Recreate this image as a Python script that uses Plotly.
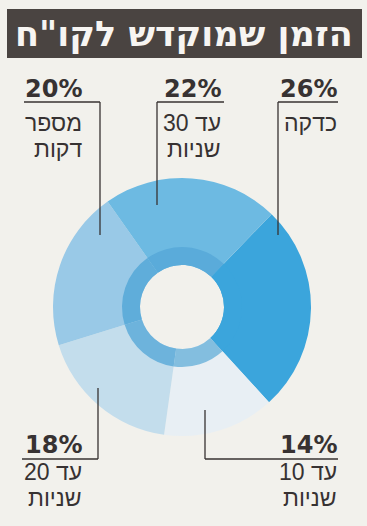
import plotly.graph_objects as go

W, H = 367, 526

# ---- data ----
title_text = "הזמן שמוקדש לקו\"ח"
categories = ["כדקה", "עד 10 שניות", "עד 20 שניות", "מספר דקות", "עד 30 שניות"]
label_lines = [["כדקה"], ["עד 10", "שניות"], ["עד 20", "שניות"], ["מספר", "דקות"], ["עד 30", "שניות"]]
values = [26, 14, 18, 20, 22]

seg_colors = ["#3ba5dc", "#e8eff4", "#c3ddec", "#99c9e7", "#6dbae2"]
ring_colors = ["#3ba5dc", "#83bedf", "#6db3dc", "#5fadda", "#5aabda"]

BG = "#f2f1ec"
INK = "#373232"

def px(x):
    return x / W

def py(y):
    return 1 - y / H

cx, cy, R, R_ring, R_hole = 182, 307, 129, 60, 42

fig = go.Figure()
fig.add_trace(go.Pie(
    labels=categories, values=values, sort=False, direction="clockwise", rotation=44,
    hole=R_hole / R, marker=dict(colors=seg_colors, line=dict(width=0)),
    textinfo="none", hoverinfo="label+percent", showlegend=False,
    domain=dict(x=[px(cx - R), px(cx + R)], y=[py(cy + R), py(cy - R)]),
))
fig.add_trace(go.Pie(
    labels=categories, values=values, sort=False, direction="clockwise", rotation=44,
    hole=R_hole / R_ring, marker=dict(colors=ring_colors, line=dict(width=0)),
    textinfo="none", hoverinfo="skip", showlegend=False,
    domain=dict(x=[px(cx - R_ring), px(cx + R_ring)], y=[py(cy + R_ring), py(cy - R_ring)]),
))

shapes = []
annotations = []

# title bar
shapes.append(dict(type="rect", xref="paper", yref="paper", x0=px(7), x1=px(362), y0=py(58), y1=py(9),
                   fillcolor="#4a4441", line=dict(width=0), layer="below"))
annotations.append(dict(text="<b>" + title_text + "</b>", x=px(184), y=py(34), xref="paper", yref="paper",
                        showarrow=False, xanchor="center", yanchor="middle",
                        font=dict(family="DejaVu Sans", size=35, color="#f7f5f2")))

# callouts
callouts = [
    # idx, text right x, pct center y, rule y, rule x0, rule x1, stem x, stem end y, label line centers
    (0, 339, 89, 102, 278, 338, 278, 235, (123, 149)),
    (4, 223, 89, 102, 157, 224, 157, 205, (123, 149)),
    (3, 84, 89, 102, 24, 100, 100, 235, (123, 149)),
    (2, 84, 445, 459, 22, 98, 98, 388, (472, 498)),
    (1, 339, 445, 459, 205, 338, 205, 410, (472, 498)),
]
for idx, tx, pcy, ry, rx0, rx1, sx, sy, lys in callouts:
    shapes.append(dict(type="line", xref="paper", yref="paper", x0=px(rx0), x1=px(rx1), y0=py(ry), y1=py(ry),
                       line=dict(color=INK, width=1.3)))
    shapes.append(dict(type="line", xref="paper", yref="paper", x0=px(sx), x1=px(sx), y0=py(ry), y1=py(sy),
                       line=dict(color=INK, width=1.3)))
    annotations.append(dict(text="<b>%d%%</b>" % values[idx], x=px(tx), y=py(pcy), xref="paper", yref="paper",
                            showarrow=False, xanchor="right", yanchor="middle",
                            font=dict(family="DejaVu Sans", size=24, color=INK)))
    for line_text, ly in zip(label_lines[idx], lys):
        annotations.append(dict(text=line_text, x=px(tx), y=py(ly), xref="paper", yref="paper",
                                showarrow=False, xanchor="right", yanchor="middle", align="right",
                                font=dict(family="Liberation Sans", size=23, color=INK)))

fig.update_layout(
    width=W, height=H, margin=dict(l=0, r=0, t=0, b=0),
    paper_bgcolor=BG, plot_bgcolor=BG,
    shapes=shapes, annotations=annotations,
)

fig.write_html("out.html", config={"displayModeBar": False},
               post_script="document.body.style.margin='0';document.body.style.background='%s';" % BG)
